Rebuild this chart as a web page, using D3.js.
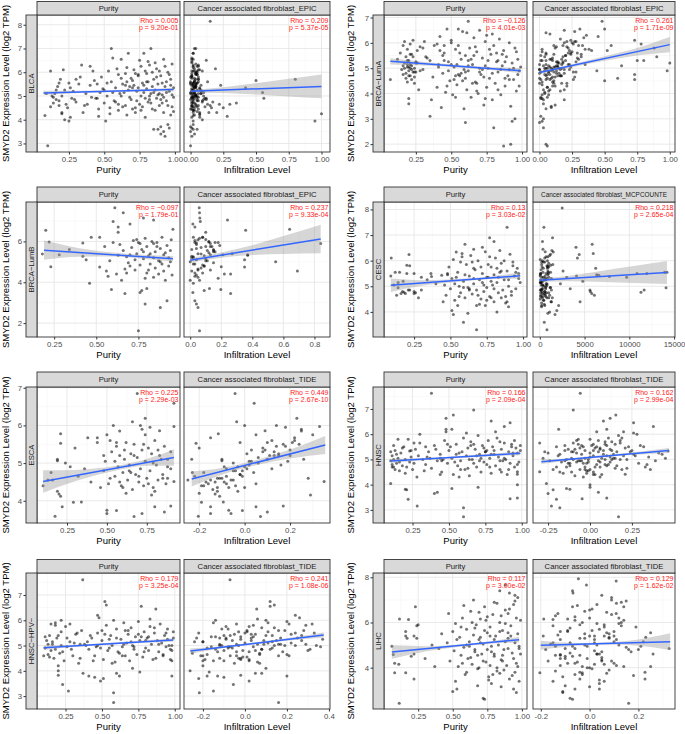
<!DOCTYPE html>
<html><head><meta charset="utf-8">
<script src="https://cdn.jsdelivr.net/npm/d3@7"></script>
<style>body{margin:0;background:#fff}svg text{font-family:"Liberation Sans",Arial,Helvetica,sans-serif}</style>
</head><body><svg id="chart" width="685" height="734"></svg>
<script>
// ---------- DATA (rows: [purity, infiltration, SMYD2 expression]) ----------
const blcaSamples = [
[0.08,0.02,4.18],[0.10,0.00,2.90],[0.12,0.05,6.05],[0.13,0.10,5.00],[0.14,0.03,4.70],[0.15,0.08,5.10],[0.16,0.12,4.85],[0.17,0.04,5.40],[0.18,0.15,4.60],[0.19,0.06,5.70],
[0.20,0.20,4.30],[0.21,0.07,6.10],[0.22,0.02,5.25],[0.22,0.09,4.00],[0.24,0.25,4.50],[0.25,0.05,5.55],[0.27,0.11,4.90],[0.28,0.03,5.20],[0.30,0.17,4.75],[0.32,0.04,5.50],
[0.34,0.06,6.30],[0.35,0.14,4.30],[0.37,0.02,5.10],[0.38,0.22,4.65],[0.40,0.08,5.45],[0.42,0.03,6.05],[0.43,0.50,5.65],[0.44,0.12,4.90],[0.45,0.04,5.50],[0.46,0.28,4.15],
[0.48,0.01,5.80],[0.49,0.07,5.30],[0.50,0.35,4.70],[0.51,0.02,3.95],[0.52,0.05,5.00],[0.53,0.09,6.05],[0.54,0.03,4.50],[0.55,0.13,5.60],[0.56,0.01,6.60],[0.57,0.06,4.80],
[0.58,0.04,5.35],[0.59,0.19,6.15],[0.60,0.02,4.40],[0.61,0.08,5.10],[0.62,0.03,5.75],[0.63,0.05,4.55],[0.64,0.55,5.15],[0.65,0.01,5.95],[0.66,0.07,4.20],[0.67,0.02,6.80],
[0.68,0.04,5.40],[0.69,0.10,4.85],[0.70,0.03,5.65],[0.71,0.06,6.10],[0.72,0.02,4.30],[0.73,0.08,5.20],[0.74,0.01,5.85],[0.75,0.04,4.65],[0.75,0.12,6.50],[0.76,0.03,5.00],
[0.77,0.05,5.55],[0.78,0.02,6.80],[0.79,0.07,4.10],[0.80,0.01,5.30],[0.80,0.04,5.95],[0.81,0.09,4.75],[0.82,0.02,6.30],[0.83,0.03,7.00],[0.83,0.06,5.10],[0.84,0.01,4.45],
[0.85,0.04,5.70],[0.85,0.02,3.60],[0.86,0.08,5.25],[0.87,0.03,6.15],[0.87,0.01,4.90],[0.88,0.05,3.60],[0.88,0.02,5.50],[0.89,0.06,4.60],[0.90,0.01,5.85],[0.90,0.03,3.40],
[0.91,0.04,5.05],[0.92,0.02,6.55],[0.92,0.07,4.30],[0.93,0.01,3.30],[0.93,0.03,5.40],[0.94,0.05,4.80],[0.95,0.02,3.80],[0.95,0.04,6.00],[0.96,0.01,5.20],[0.97,0.03,4.20],
[0.97,0.06,5.70],[0.98,0.02,4.55],[0.98,0.04,6.35],[0.99,0.01,4.95],[0.99,0.03,5.35],[0.70,0.42,5.35],[0.30,0.80,5.70],[0.25,0.95,3.95],[0.20,1.00,4.25],[null,0.15,8.15],
[0.60,0.30,4.65],[0.45,0.56,4.90],[0.65,0.23,5.45],[0.72,0.16,4.50],[0.55,0.04,7.00],[0.62,0.01,6.55],[0.66,0.03,5.60],[0.68,0.02,4.95],[0.71,0.01,5.45],[0.74,0.05,5.90],
[0.76,0.02,4.40],[0.78,0.00,5.15],[0.79,0.01,6.05],[0.81,0.03,5.60],[0.82,0.00,4.85],[0.84,0.02,5.40],[0.86,0.01,6.40],[0.89,0.00,5.10],[0.91,0.01,4.70],[0.94,0.00,5.60],
[0.50,0.01,5.25],[0.46,0.00,4.45],[0.40,0.02,6.25],[0.36,0.01,4.60],[0.33,0.00,5.80],[0.26,0.01,4.10],[0.18,0.00,5.55],[0.90,0.00,3.70],[0.92,0.00,3.50],[0.96,0.01,3.65],
[0.56,0.03,5.15],[0.58,0.01,4.75],[0.60,0.05,5.90],[0.62,0.02,5.00],[0.63,0.00,5.50],[0.65,0.04,4.60],[0.66,0.02,6.20],[0.67,0.05,5.25],[0.69,0.01,5.75],[0.70,0.06,4.45],
[0.72,0.04,5.95],[0.73,0.02,4.80],[0.74,0.03,5.35],[0.76,0.06,6.25],[0.77,0.01,4.55],[0.78,0.04,5.45],[0.79,0.03,4.90],[0.80,0.06,5.60],[0.81,0.01,6.45],[0.82,0.04,5.00],
[0.83,0.02,4.70],[0.84,0.05,6.00],[0.85,0.01,5.15],[0.86,0.03,4.40],[0.87,0.06,5.80],[0.88,0.04,5.05],[0.89,0.02,6.05],[0.90,0.05,4.85],[0.91,0.02,5.55],[0.92,0.01,4.95],
[0.93,0.05,6.25],[0.94,0.03,5.15],[0.95,0.01,4.60],[0.96,0.04,5.90],[0.97,0.02,5.45],[0.98,0.01,5.05],[0.99,0.05,4.35],[0.14,0.06,4.95],[0.16,0.02,5.25],[0.18,0.09,4.80],
[0.20,0.04,5.00],[0.23,0.13,4.65],[0.26,0.07,5.35],[0.29,0.02,4.85],[0.12,0.11,4.55],[0.41,0.05,4.95],[0.47,0.10,5.15],[0.52,0.02,5.55],[0.54,0.07,4.25],[0.09,0.03,5.10]
];
const lumaSamples = [
[0.07,0.05,4.55],[0.12,0.08,5.35],[0.14,0.22,5.60],[0.15,0.10,4.95],[0.16,0.30,5.90],[0.16,0.04,4.75],[0.17,0.15,5.20],[0.17,0.28,6.05],[0.18,0.06,4.60],[0.18,0.18,5.45],
[0.19,0.12,5.05],[0.19,0.35,5.75],[0.20,0.02,3.80],[0.20,0.03,3.60],[0.20,0.09,4.90],[0.20,0.20,5.30],[0.21,0.14,4.70],[0.21,0.26,5.95],[0.22,0.07,5.10],[0.22,0.32,5.55],
[0.23,0.11,4.85],[0.23,0.24,6.10],[0.24,0.05,5.00],[0.24,0.17,4.40],[0.25,0.13,5.25],[0.26,0.40,5.70],[0.27,0.08,4.15],[0.28,0.21,5.85],[0.30,0.16,4.95],[0.31,0.27,6.05],
[0.33,0.10,5.40],[0.35,0.01,3.10],[0.36,0.19,3.75],[0.37,0.12,4.65],[0.38,0.33,5.90],[0.40,0.06,4.25],[0.41,0.23,5.15],[0.42,0.45,6.25],[0.43,0.09,3.45],[0.44,0.15,4.80],
[0.45,0.29,5.60],[0.46,0.04,4.05],[0.47,0.50,6.55],[0.48,0.18,5.25],[0.49,0.11,4.50],[0.50,0.25,6.00],[0.51,0.07,3.95],[0.52,0.14,5.05],[0.53,0.38,5.75],[0.54,0.02,4.35],
[0.55,0.31,6.55],[0.56,0.16,4.70],[0.57,0.09,5.35],[0.58,0.27,6.45],[0.59,0.05,3.40],[0.60,0.00,2.85],[0.60,0.20,5.50],[0.61,0.03,4.15],[0.62,0.48,6.85],[0.62,0.13,4.90],
[0.63,0.22,5.80],[0.64,0.06,3.85],[0.65,0.17,5.15],[0.66,0.34,6.20],[0.67,0.10,4.45],[0.68,0.25,5.65],[0.69,0.04,4.00],[0.70,0.19,6.50],[0.71,0.08,4.75],[0.72,0.29,5.40],
[0.73,0.12,3.55],[0.74,0.21,6.05],[0.75,0.06,4.25],[0.75,0.36,6.30],[0.76,0.15,5.00],[0.77,0.09,4.60],[0.78,0.24,5.55],[0.79,0.03,3.75],[0.80,0.03,2.65],[0.80,0.18,5.90],
[0.81,0.11,4.40],[0.82,0.28,5.25],[0.83,0.07,4.85],[0.84,0.16,6.15],[0.85,0.02,3.95],[0.86,0.13,5.10],[0.87,0.06,1.93],[0.87,0.23,5.70],[0.88,0.10,4.30],[0.89,0.32,5.45],
[0.90,0.05,4.70],[0.91,0.19,6.00],[0.92,0.05,2.00],[0.92,0.09,3.50],[0.93,0.02,2.90],[0.93,0.14,5.20],[0.94,0.26,4.55],[0.95,0.03,3.00],[0.95,0.12,5.80],[0.96,0.07,4.10],
[0.97,0.17,5.35],[0.98,0.04,4.90],[0.98,0.21,4.30],[0.99,0.11,5.05],[0.50,0.73,6.10],[0.45,0.75,5.30],[0.40,0.78,5.95],[0.35,0.80,5.30],[0.30,0.88,5.80],[0.32,0.90,5.45],
[0.28,0.98,4.90],[0.25,1.00,5.20],[0.55,0.73,4.75],[0.52,0.73,4.55],[0.60,0.60,4.60],[0.58,0.50,4.50],[0.62,0.63,5.10],[0.45,0.55,5.90],[0.42,0.52,5.70],[0.48,0.44,4.90],
[0.24,0.01,4.85],[0.21,0.00,5.15],[0.19,0.02,4.45],[0.66,0.01,5.50],[0.72,0.00,4.95],[0.83,0.01,5.30],[0.57,0.00,4.80],[0.77,0.02,5.75],[0.88,0.00,4.60],[0.64,0.30,5.35],
[0.70,0.26,4.85],[0.54,0.35,5.15],[0.79,0.08,6.35],[0.86,0.05,5.55],[0.53,0.01,3.85],[0.68,0.00,4.40],[0.74,0.01,3.80],[0.91,0.00,4.95],[0.96,0.02,5.65],[0.61,0.05,6.40],
[0.17,0.09,5.00],[0.18,0.13,4.80],[0.19,0.05,5.30],[0.20,0.16,4.70],[0.21,0.06,5.00],[0.22,0.19,4.95],[0.23,0.04,5.45],[0.24,0.10,4.65],[0.19,0.22,5.15],[0.21,0.11,5.55],
[0.16,0.14,5.10],[0.25,0.07,4.85],[0.26,0.18,5.20],[0.22,0.01,4.55],[0.20,0.24,5.05],
[0.41,0.08,5.05],[0.44,0.20,5.50],[0.47,0.12,4.30],[0.50,0.05,5.15],[0.53,0.17,4.70],[0.56,0.24,5.60],[0.59,0.10,4.95],[0.62,0.02,5.30],[0.65,0.21,4.40],[0.67,0.13,5.85],
[0.70,0.04,5.00],[0.73,0.27,4.65],[0.76,0.10,5.30],[0.79,0.19,4.80],[0.82,0.05,5.60],[0.85,0.23,4.95],[0.88,0.14,5.25],[0.91,0.08,4.55],[0.94,0.17,5.00],[0.97,0.06,4.75],
[0.55,0.11,5.90],[0.68,0.16,4.10],[0.74,0.03,5.10],[0.83,0.19,4.15],[0.60,0.28,4.85]
];
const lumbSamples = [
[0.61,0.058,7.65],[0.66,0.06,7.40],[0.78,0.062,7.15],[0.84,0.24,7.05],[0.70,0.017,6.85],[0.60,0.065,6.97],
[0.955,0.64,6.60],[0.20,0.357,6.55],[0.63,0.03,6.70],[0.63,0.10,6.45],[0.47,0.02,6.20],[0.52,0.08,6.20],[0.945,0.05,6.08],[0.22,0.12,5.97],[0.42,0.04,5.92],
[0.84,0.84,5.90],[0.34,0.15,5.60],[0.18,0.07,5.39],[0.28,0.37,5.35],[0.63,0.37,5.32],[0.42,0.01,5.27],[0.44,0.35,5.10],[0.94,0.55,5.00],[0.23,0.20,4.76],[0.52,0.35,4.75],
[0.56,0.69,4.55],[0.62,0.26,4.40],[0.59,0.197,3.65],[0.67,0.26,3.45],[0.80,0.124,3.70],[0.77,0.09,3.60],[0.76,0.017,3.50],[0.92,0.03,3.09],[0.79,0.04,2.93],[0.88,0.05,2.77],
[0.75,0.06,1.63],[0.46,0.02,3.95],
[0.64,0.04,5.85],[0.66,0.11,5.55],[0.68,0.02,5.25],[0.69,0.15,4.95],[0.71,0.07,5.70],[0.72,0.03,6.05],[0.73,0.13,4.60],[0.74,0.05,5.40],[0.75,0.18,5.95],[0.76,0.08,4.85],
[0.77,0.01,5.60],[0.78,0.10,5.15],[0.79,0.06,6.15],[0.80,0.03,4.45],[0.80,0.14,5.75],[0.81,0.09,5.30],[0.82,0.02,4.90],[0.83,0.12,6.00],[0.84,0.05,4.25],[0.85,0.16,5.50],
[0.85,0.07,4.70],[0.86,0.03,5.95],[0.87,0.11,5.05],[0.87,0.22,4.40],[0.88,0.04,5.65],[0.89,0.08,6.20],[0.90,0.01,4.55],[0.90,0.13,5.35],[0.91,0.06,4.10],[0.92,0.19,5.80],
[0.93,0.02,5.20],[0.93,0.09,4.80],[0.94,0.15,5.55],[0.95,0.04,4.35],[0.58,0.10,5.05],[0.57,0.03,4.30],[0.55,0.13,5.75],[0.65,0.00,4.10],[0.70,0.21,5.35],[0.82,0.27,5.40],
[0.74,0.10,6.10],[0.67,0.05,4.65],[0.60,0.16,5.95],[0.88,0.00,5.00],[0.79,0.18,4.20],
[0.70,0.09,4.80],[0.73,0.04,5.10],[0.78,0.15,5.50],[0.81,0.05,4.60],[0.86,0.10,5.75],[0.89,0.03,4.90],[0.91,0.12,5.45],[0.76,0.13,5.90],[0.68,0.08,4.45],[0.84,0.01,5.20]
];
const cescSamples = [
[null,2500,8.06],[0.89,460,7.30],[0.77,1420,6.89],[0.80,300,6.75],[0.72,4040,6.52],[0.60,5850,6.64],[0.58,5970,6.28],[0.66,6240,5.70],[0.44,6600,5.43],[0.48,6350,5.45],
[0.37,7770,5.38],[0.30,9700,5.35],[0.20,10860,5.50],[0.25,11950,5.50],[0.15,13940,5.55],[0.12,14200,5.55],[0.14,14100,4.94],[0.18,11300,4.77],[0.21,11650,4.85],[0.22,5600,4.85],
[0.25,5650,4.80],[0.16,5800,4.72],[0.13,6100,4.65],[0.45,4500,4.40],[0.51,1900,4.05],[0.55,2100,4.25],[0.59,500,3.60],[0.68,800,3.30],[0.09,4100,5.40],[0.093,4200,6.10],
[0.215,4400,6.24],[0.175,4800,5.20],[0.20,1200,5.82],[0.22,900,5.80],[0.19,600,4.72],[0.25,300,4.72],[0.26,1000,4.75],[0.366,700,5.50],[0.54,1500,6.34],[0.82,1100,4.00],
[0.90,200,4.20],[0.93,800,5.80],[0.93,400,5.95],[0.97,1300,5.30],[0.97,100,5.50],[0.52,1700,3.90],[0.75,3000,5.35],[0.63,3400,4.90],[0.85,2600,5.60],[0.40,2300,5.10],
[0.46,150,5.05],[0.47,600,4.65],[0.49,1000,5.75],[0.50,250,4.90],[0.51,800,5.30],[0.52,50,6.05],[0.53,400,4.45],[0.55,1200,5.55],[0.56,700,5.00],[0.57,100,4.75],
[0.58,900,6.15],[0.59,350,5.20],[0.60,1400,4.55],[0.61,200,5.85],[0.62,650,4.95],[0.63,50,5.40],[0.64,1100,6.20],[0.65,450,4.70],[0.66,800,5.10],[0.67,150,5.65],
[0.68,1300,4.85],[0.69,300,6.00],[0.70,700,5.25],[0.71,50,4.50],[0.72,950,5.50],[0.73,250,4.80],[0.74,600,6.35],[0.75,1150,4.95],[0.76,400,5.35],[0.77,100,4.60],
[0.78,850,5.75],[0.79,300,5.05],[0.80,1250,4.40],[0.81,550,6.10],[0.82,150,5.15],[0.83,750,4.75],[0.84,350,5.55],[0.85,1000,5.90],[0.86,50,4.85],[0.87,650,5.25],
[0.88,200,4.35],[0.89,900,5.60],[0.90,450,5.00],[0.91,1200,6.25],[0.92,100,4.65],[0.94,600,5.40],[0.95,300,4.90],[0.96,850,5.70],[0.98,150,5.15],[0.70,500,4.30],
[0.74,200,4.25],[0.78,1000,4.55],[0.66,350,6.45],[0.84,1350,6.40],[0.62,900,3.95],[0.57,550,5.95],[0.76,1450,5.85],[0.88,650,4.60],[0.54,250,5.35],[0.80,50,5.45],
[0.30,150,4.85],[0.34,450,5.25],[0.28,800,4.55],[0.14,100,5.15],[0.11,350,5.05],[0.17,550,4.80],
[0.48,100,5.50],[0.53,700,5.10],[0.56,300,4.60],[0.60,900,5.45],[0.63,150,4.85],[0.66,600,5.30],[0.69,1100,4.65],[0.71,250,5.75],[0.73,800,5.05],[0.75,450,4.45],
[0.78,150,5.20],[0.80,650,4.90],[0.83,1000,5.35],[0.85,300,4.55],[0.87,850,6.00],[0.90,100,5.25],[0.92,550,4.80],[0.95,950,5.55],[0.65,200,5.95],[0.77,700,6.15],
[0.59,1200,4.95],[0.72,50,5.15],[0.82,400,5.70],[0.89,1300,4.40],[0.68,550,4.25]
];
const escaSamples = [
[0.69,-0.042,6.85],[0.92,0.042,6.59],[0.74,0.23,6.19],[0.66,-0.035,6.10],[0.54,0.00,6.00],[0.71,0.14,6.00],[0.77,0.18,5.95],[0.83,0.09,5.86],[0.92,0.33,5.97],
[0.21,-0.116,5.78],[0.21,-0.214,5.53],[0.30,-0.20,5.40],[0.38,-0.15,5.67],[0.44,0.22,5.67],[0.44,-0.02,5.55],[0.50,0.05,5.75],[0.52,0.12,5.60],[0.19,-0.233,5.10],[0.19,-0.10,5.06],[0.24,-0.05,5.00],
[0.10,-0.19,4.40],[0.13,-0.15,4.55],[0.15,-0.23,4.75],[0.19,-0.12,4.25],[0.20,-0.13,4.18],[0.21,-0.11,4.12],[0.29,-0.19,3.96],[0.175,-0.204,3.59],[0.22,-0.15,3.84],[0.34,-0.094,3.97],
[0.50,-0.07,3.75],[0.50,-0.06,3.66],[0.56,-0.01,3.74],[0.67,0.07,3.58],[0.72,-0.15,3.66],[0.80,0.05,3.84],[0.90,0.17,3.86],[0.86,0.10,3.70],[0.92,0.35,4.51],[0.88,0.28,4.60],[0.78,0.29,4.15],
[0.46,-0.12,4.35],[0.48,-0.05,4.80],[0.49,0.02,5.05],[0.51,-0.16,4.45],[0.53,0.08,5.30],[0.55,-0.08,4.65],[0.56,0.14,5.45],[0.57,-0.03,4.90],[0.58,0.20,5.20],[0.59,-0.18,4.40],
[0.60,0.04,4.75],[0.61,-0.10,5.10],[0.62,0.10,5.55],[0.63,-0.06,4.55],[0.64,0.16,4.95],[0.65,0.01,5.25],[0.66,-0.14,4.30],[0.67,0.24,5.50],[0.68,-0.02,4.70],[0.69,0.06,5.15],
[0.70,-0.09,4.50],[0.71,0.12,4.85],[0.72,0.03,5.35],[0.73,-0.04,4.40],[0.74,0.19,5.05],[0.75,-0.11,4.60],[0.76,0.08,5.40],[0.77,-0.01,4.80],[0.78,0.15,5.25],[0.79,-0.07,4.35],
[0.80,0.22,5.60],[0.81,0.02,4.95],[0.82,-0.05,4.55],[0.83,0.11,5.20],[0.84,0.26,5.10],[0.85,-0.02,4.70],[0.86,0.18,5.45],[0.87,0.05,4.45],[0.88,-0.09,4.90],[0.90,0.13,5.30],
[0.40,-0.17,4.50],[0.36,-0.08,4.85],[0.32,-0.22,4.65],[0.27,0.00,4.90],[0.16,-0.25,4.55],[0.62,-0.20,4.20],[0.74,0.30,5.75],[0.58,0.25,5.85],
[0.52,-0.10,4.60],[0.55,0.03,5.05],[0.58,-0.13,4.50],[0.61,0.09,5.35],[0.64,-0.04,4.80],[0.67,0.13,5.20],[0.70,-0.01,4.65],[0.73,0.17,5.50],[0.76,-0.08,4.45],[0.79,0.06,5.00],
[0.82,0.20,5.35],[0.85,-0.12,4.60],[0.88,0.10,5.10],[0.60,0.00,4.35],[0.72,0.25,5.90],[0.48,0.15,5.20],[0.65,-0.18,4.75],[0.80,-0.03,4.25],[0.56,0.21,5.55],[0.90,0.01,4.85]
];
const hnscSamples = [
[0.38,-0.058,7.62],[0.53,0.154,6.76],[0.48,0.12,6.63],[0.67,-0.10,6.96],[0.79,0.08,6.52],[0.92,0.26,6.45],[0.88,0.378,6.30],[0.48,-0.187,6.20],[0.48,0.20,6.10],[0.26,-0.30,5.65],
[0.23,0.466,5.33],[0.12,-0.15,5.55],[0.11,0.33,4.70],[0.11,0.34,4.80],[0.10,-0.26,4.05],[0.21,-0.22,3.80],[0.22,-0.20,3.42],[0.282,-0.23,3.15],[0.60,-0.18,3.08],[0.60,0.17,2.73],
[0.92,-0.047,3.44],[0.97,0.10,3.47],[0.97,0.21,4.41],[0.97,-0.30,4.51],[0.97,0.00,4.00],[0.20,-0.12,3.82],[0.40,-0.25,3.65],[0.42,0.05,3.70],[0.52,-0.14,3.85],[0.70,0.00,3.90],
[0.10,-0.05,4.95],[0.11,0.02,5.15],[0.12,-0.20,4.70],[0.13,0.08,5.35],[0.14,-0.12,4.85],[0.15,0.15,5.05],[0.16,-0.02,4.55],[0.17,-0.25,5.25],[0.18,0.10,4.75],[0.19,0.04,5.50],
[0.20,-0.16,4.45],[0.22,0.00,5.80],[0.23,-0.08,4.90],[0.24,0.12,5.10],[0.25,-0.22,4.60],[0.27,0.06,5.40],[0.28,-0.04,4.30],[0.30,0.18,5.65],[0.32,-0.14,5.00],[0.34,0.09,4.80],
[0.36,-0.10,5.30],[0.38,0.22,4.65],[0.40,0.01,5.55],[0.42,-0.06,4.95],[0.44,0.14,5.20],[0.45,-0.18,4.50],[0.47,0.05,5.75],[0.49,-0.02,4.85],[0.50,0.25,5.35],[0.52,-0.11,5.05],
[0.53,0.07,4.40],[0.55,-0.07,5.60],[0.56,0.16,4.75],[0.57,0.00,5.25],[0.58,-0.15,4.95],[0.60,0.11,5.85],[0.61,-0.03,4.60],[0.62,0.20,5.15],[0.63,0.03,5.45],[0.64,-0.09,4.35],
[0.65,0.13,5.70],[0.66,-0.01,5.00],[0.67,0.29,4.85],[0.68,-0.13,5.40],[0.69,0.06,4.70],[0.70,0.17,5.95],[0.71,-0.05,5.20],[0.72,0.02,4.50],[0.73,0.10,5.55],[0.74,-0.17,4.90],
[0.75,0.24,5.30],[0.76,0.04,4.80],[0.77,-0.08,5.75],[0.78,0.14,5.05],[0.79,-0.02,4.45],[0.80,0.32,5.50],[0.81,0.08,5.20],[0.82,-0.12,4.75],[0.83,0.19,5.85],[0.84,0.00,5.10],
[0.85,-0.06,4.60],[0.86,0.12,5.40],[0.87,0.05,4.95],[0.88,-0.10,5.65],[0.89,0.22,5.00],[0.90,0.02,4.40],[0.91,0.16,5.30],[0.92,-0.04,4.85],[0.93,0.09,5.60],[0.94,0.27,5.15],
[0.95,-0.14,4.70],[0.96,0.06,5.45],[0.97,0.41,5.25],[0.98,-0.01,4.90],[0.99,0.13,5.35],[0.35,0.35,5.10],[0.45,0.39,4.95],[0.55,0.43,5.20],[0.65,0.30,5.55],[0.75,-0.27,5.30],
[0.85,-0.24,4.95],[0.30,0.28,6.00],[0.58,0.36,4.60],[0.44,-0.28,5.05],[0.72,0.45,5.05],[0.62,0.26,6.05],[0.52,0.10,6.20],[0.82,0.04,6.10],[0.15,-0.07,5.80],[0.95,0.18,5.75],
[0.10,0.05,5.30],[0.12,-0.10,5.00],[0.13,0.00,4.60],[0.14,-0.18,5.20],[0.16,0.06,4.90],[0.18,-0.06,5.45],[0.20,0.13,5.00],[0.21,-0.03,4.70],[0.24,0.02,5.35],[0.26,-0.13,4.85],
[0.29,0.10,5.15],[0.33,-0.01,4.55],[0.37,0.07,5.05],[0.41,-0.09,5.40],[0.46,0.18,5.00],[0.51,-0.04,5.50],[0.54,0.12,4.90],[0.59,-0.11,5.30],[0.63,0.15,4.65],[0.67,0.02,5.60],
[0.71,-0.07,4.95],[0.74,0.21,5.45],[0.78,0.03,4.70],[0.81,-0.15,5.35],[0.85,0.09,5.70],[0.88,-0.03,5.05],[0.91,0.19,4.60],[0.94,-0.08,5.25],[0.97,0.11,4.80],[0.99,-0.05,5.55],
[0.57,0.06,4.30],[0.69,-0.19,5.15],[0.79,0.26,5.20],[0.44,0.03,4.40],[0.34,-0.20,5.50],[0.64,0.09,5.00],[0.86,-0.11,4.50],[0.49,0.15,5.60],[0.76,-0.03,5.35],[0.93,0.23,5.50]
];
const hpvSamples = [
[0.368,-0.071,7.60],[0.53,0.14,6.60],[0.52,0.12,6.74],[0.47,0.24,6.20],[0.48,0.26,6.10],[0.77,0.12,6.55],[0.87,0.056,6.45],
[0.18,-0.15,5.90],[0.18,0.29,5.80],[0.22,-0.14,6.00],[0.20,-0.20,4.20],[0.20,-0.261,4.00],[0.20,-0.02,3.83],[0.23,-0.055,3.46],[0.27,-0.15,3.20],[0.58,-0.217,3.13],[0.58,0.16,2.75],
[0.10,-0.20,4.60],[0.98,0.34,5.00],[0.98,0.30,4.80],[0.98,0.20,3.80],[0.98,-0.20,4.40],
[0.37,0.05,3.90],[0.41,-0.18,3.80],[0.45,-0.10,3.75],[0.49,0.02,3.60],[0.51,-0.22,3.70],[0.60,0.08,3.90],[0.62,-0.13,3.80],[0.71,0.10,4.10],[0.76,-0.17,3.95],
[0.11,-0.08,4.90],[0.12,0.03,5.20],[0.13,-0.18,4.65],[0.14,0.10,5.40],[0.15,-0.10,4.80],[0.16,0.17,5.05],[0.17,-0.03,4.50],[0.19,-0.23,5.30],[0.21,0.07,4.70],[0.22,0.01,5.55],
[0.24,-0.15,4.40],[0.25,0.02,5.75],[0.26,-0.07,4.95],[0.28,0.13,5.15],[0.30,-0.21,4.60],[0.32,0.05,5.45],[0.34,-0.05,4.30],[0.36,0.19,5.60],[0.39,-0.12,5.00],[0.41,0.08,4.85],
[0.43,-0.09,5.30],[0.45,0.21,4.60],[0.47,0.00,5.50],[0.49,-0.06,4.90],[0.50,0.15,5.20],[0.51,-0.19,4.45],[0.53,0.04,5.80],[0.54,-0.01,4.80],[0.56,0.27,5.40],[0.57,-0.11,5.00],
[0.59,0.06,4.35],[0.60,-0.08,5.65],[0.61,0.18,4.75],[0.63,-0.02,5.25],[0.64,-0.16,4.95],[0.65,0.11,5.90],[0.66,-0.04,4.60],[0.67,0.22,5.10],[0.68,0.03,5.45],[0.69,-0.10,4.40],
[0.70,0.14,5.70],[0.71,-0.03,5.00],[0.72,0.31,4.85],[0.73,-0.14,5.35],[0.74,0.07,4.65],[0.75,0.20,5.95],[0.76,-0.06,5.20],[0.78,0.01,4.55],[0.79,0.11,5.55],[0.80,-0.18,4.90],
[0.81,0.25,5.30],[0.82,0.05,4.80],[0.83,-0.09,5.75],[0.84,0.16,5.05],[0.85,-0.02,4.45],[0.86,0.33,5.50],[0.88,0.09,5.20],[0.89,-0.13,4.75],[0.90,0.21,5.85],[0.91,0.00,5.10],
[0.92,-0.07,4.60],[0.93,0.13,5.40],[0.94,0.04,4.95],[0.95,-0.11,5.65],[0.96,0.24,5.00],[0.97,0.02,4.45],[0.99,0.17,5.30],[0.35,0.29,5.05],[0.46,0.36,4.95],[0.55,0.37,5.25],
[0.66,0.28,5.60],[0.40,-0.24,5.15],[0.62,-0.25,4.70],[0.28,0.32,5.85],[0.58,0.10,6.00],[0.83,0.06,6.05],[0.15,-0.04,5.85],
[0.11,0.04,5.35],[0.13,-0.12,5.05],[0.14,-0.01,4.55],[0.16,-0.20,5.15],[0.18,0.08,4.85],[0.20,-0.07,5.40],[0.22,0.14,5.00],[0.23,-0.04,4.75],[0.26,0.03,5.30],[0.29,-0.14,4.85],
[0.31,0.11,5.10],[0.35,-0.02,4.50],[0.38,0.06,5.05],[0.42,-0.10,5.40],[0.47,0.19,5.00],[0.52,-0.05,5.45],[0.55,0.13,4.90],[0.60,-0.12,5.30],[0.64,0.16,4.60],[0.68,0.01,5.60],
[0.72,-0.08,4.95],[0.75,0.22,5.45],[0.79,0.02,4.75],[0.82,-0.16,5.35],[0.86,0.08,5.70],[0.89,-0.04,5.05],[0.92,0.20,4.65],[0.95,-0.09,5.25],[0.97,0.12,4.85],[0.99,-0.03,5.55],
[0.57,0.07,4.30],[0.70,-0.20,5.15],[0.80,0.27,5.20],[0.44,0.02,4.40],[0.33,-0.22,5.50],[0.65,0.09,5.05],[0.87,-0.12,4.50],[0.50,0.16,5.60],[0.77,-0.02,5.35],[0.94,0.24,5.50]
];
const lihcSamples = [
[0.113,0.16,2.43],[0.08,-0.204,3.78],[0.06,-0.14,4.95],[0.07,-0.12,4.58],[0.08,-0.06,4.20],[0.11,0.02,4.15],[0.115,-0.188,6.15],[0.18,-0.15,6.13],[0.16,-0.09,5.60],[0.16,0.00,5.40],
[0.17,-0.04,5.30],[0.23,-0.07,6.70],[0.24,-0.15,5.85],[0.25,0.06,5.90],[0.22,0.10,5.40],[0.24,-0.02,5.30],[0.22,0.03,4.60],[0.20,-0.10,4.50],[0.22,0.227,3.50],[0.16,-0.03,3.78],
[0.50,-0.11,2.95],[0.53,0.04,3.05],[0.72,-0.08,2.65],[0.73,-0.07,2.60],[0.47,0.109,6.40],
[null,-0.046,7.93],[null,0.109,7.84],[0.88,-0.013,7.66],[0.84,-0.07,7.40],[0.91,-0.068,7.30],[0.95,0.05,7.20],[0.97,0.09,7.10],[0.80,0.13,6.90],
[0.97,0.25,4.05],[0.98,0.326,4.85],[0.90,0.25,5.55],[0.96,-0.11,2.90],[0.94,-0.06,3.05],[0.85,0.00,3.15],[0.78,0.04,3.30],[0.68,-0.10,3.20],[0.60,0.227,3.80],[0.75,0.20,4.80],
[0.46,-0.08,5.10],[0.48,0.05,4.30],[0.50,-0.12,5.60],[0.51,0.02,4.75],[0.52,0.12,5.95],[0.54,-0.03,4.05],[0.55,0.08,5.35],[0.56,-0.14,4.55],[0.57,0.00,6.20],[0.58,0.15,4.90],
[0.59,-0.06,3.70],[0.60,0.04,5.70],[0.61,-0.10,4.40],[0.62,0.10,5.15],[0.63,-0.02,6.50],[0.64,0.06,4.15],[0.65,-0.13,5.45],[0.66,0.17,4.70],[0.67,-0.04,5.90],[0.68,0.01,3.95],
[0.69,0.11,5.25],[0.70,-0.09,6.15],[0.71,0.03,4.60],[0.72,-0.16,5.05],[0.73,0.14,6.70],[0.74,-0.05,4.25],[0.75,0.07,5.55],[0.76,-0.11,3.60],[0.77,0.19,5.80],[0.78,-0.01,4.95],
[0.79,0.09,6.35],[0.80,-0.07,4.50],[0.81,0.02,5.40],[0.82,-0.14,3.85],[0.83,0.12,5.00],[0.84,-0.03,6.00],[0.85,0.05,4.35],[0.86,-0.09,5.65],[0.87,0.16,4.80],[0.88,0.00,6.55],
[0.89,-0.12,4.10],[0.90,0.08,5.30],[0.91,-0.04,3.50],[0.92,0.13,5.85],[0.93,-0.08,4.65],[0.94,0.03,6.80],[0.95,-0.15,5.10],[0.96,0.10,4.20],[0.97,-0.02,5.50],[0.98,0.06,3.40],
[0.99,-0.06,6.10],[0.62,0.21,4.95],[0.70,0.23,5.35],[0.80,0.26,4.60],[0.88,0.22,5.15],[0.66,-0.18,4.80],[0.77,-0.19,5.40],[0.86,-0.17,4.30],[0.93,0.18,3.65],[0.58,-0.05,6.75],
[0.52,-0.15,3.40],[0.65,0.09,7.00],[0.74,0.14,6.10],[0.82,0.11,6.85],[0.90,-0.13,6.40],[0.95,0.15,6.95],[0.56,0.06,5.80],[0.69,-0.01,4.00],[0.76,0.04,3.45],[0.84,0.07,3.75],
[0.30,-0.12,4.40],[0.35,0.03,5.00],[0.40,-0.06,4.85],[0.42,0.08,5.50],[0.37,0.14,4.05],
[0.60,-0.02,5.00],[0.63,0.05,4.45],[0.66,-0.08,5.75],[0.70,0.02,5.10],[0.72,0.09,4.30],[0.75,-0.06,6.25],[0.78,0.05,4.70],[0.80,-0.12,5.25],[0.82,0.00,4.00],[0.84,0.10,5.60],
[0.86,-0.04,4.55],[0.88,0.03,5.95],[0.90,-0.10,4.85],[0.92,0.06,5.40],[0.94,-0.01,4.40],[0.96,0.12,6.20],[0.98,-0.07,4.95],[0.87,0.08,3.90],[0.79,-0.03,3.70],[0.73,0.01,5.65],
[0.68,-0.12,4.55],[0.64,0.13,6.00],[0.57,-0.09,4.20],[0.53,0.02,5.25],[0.91,0.01,6.60],[0.85,-0.14,6.30],[0.77,0.11,4.10],[0.69,0.07,6.45],[0.95,-0.04,3.80],[0.99,0.04,4.60]
];

// fitted lines with confidence band: [x, lower, fit, upper]
const blcaPurFit = [[0.07,5.04,5.13,5.22],[0.30,5.11,5.165,5.22],[0.60,5.17,5.21,5.25],[0.80,5.19,5.24,5.29],[0.99,5.19,5.27,5.35]];
const blcaInfFit = [[0.0,5.15,5.20,5.25],[0.25,5.13,5.25,5.37],[0.5,5.06,5.30,5.54],[0.75,4.98,5.35,5.72],[1.0,4.90,5.40,5.90]];
const lumaPurFit = [[0.07,5.15,5.27,5.39],[0.3,5.11,5.18,5.25],[0.6,5.01,5.06,5.11],[0.8,4.92,4.98,5.04],[0.99,4.80,4.90,5.00]];
const lumaInfFit = [[0.0,4.76,4.83,4.90],[0.25,5.04,5.10,5.16],[0.5,5.29,5.38,5.47],[0.75,5.50,5.65,5.80],[1.0,5.63,5.93,6.23]];
const lumbPurFit = [[0.19,5.10,5.57,6.04],[0.4,5.25,5.46,5.67],[0.6,5.26,5.36,5.46],[0.8,5.13,5.23,5.33],[0.955,5.02,5.15,5.28]];
const lumbInfFit = [[0.0,4.97,5.08,5.19],[0.2,5.20,5.33,5.46],[0.4,5.33,5.57,5.81],[0.6,5.38,5.82,6.26],[0.84,5.42,6.12,6.82]];
const cescPurFit = [[0.09,4.78,5.04,5.30],[0.3,5.02,5.13,5.24],[0.6,5.20,5.25,5.30],[0.8,5.28,5.34,5.40],[0.98,5.29,5.41,5.53]];
const cescInfFit = [[0,5.18,5.24,5.30],[3500,5.20,5.31,5.42],[7000,5.17,5.39,5.61],[10500,5.13,5.46,5.79],[14200,5.09,5.54,5.99]];
const escaPurFit = [[0.10,4.21,4.51,4.81],[0.3,4.52,4.67,4.82],[0.55,4.80,4.86,4.92],[0.75,4.93,5.02,5.11],[0.92,4.93,5.15,5.37]];
const escaInfFit = [[-0.233,4.38,4.58,4.78],[-0.1,4.69,4.78,4.87],[0.05,4.94,5.01,5.08],[0.2,5.12,5.24,5.36],[0.355,5.24,5.48,5.72]];
const hnscPurFit = [[0.1,4.86,4.94,5.02],[0.35,4.98,5.02,5.06],[0.6,5.07,5.11,5.15],[0.8,5.13,5.18,5.23],[0.99,5.17,5.24,5.31]];
const hnscInfFit = [[-0.29,4.82,4.91,5.00],[-0.1,4.98,5.02,5.06],[0.1,5.10,5.14,5.18],[0.3,5.19,5.25,5.31],[0.47,5.25,5.35,5.45]];
const hpvPurFit = [[0.1,4.83,4.91,4.99],[0.35,4.96,5.00,5.04],[0.6,5.05,5.09,5.13],[0.8,5.11,5.16,5.21],[0.99,5.15,5.22,5.29]];
const hpvInfFit = [[-0.26,4.68,4.78,4.88],[-0.1,4.90,4.94,4.98],[0.05,5.05,5.09,5.13],[0.2,5.19,5.24,5.29],[0.375,5.32,5.42,5.52]];
const lihcPurFit = [[0.06,4.39,4.69,4.99],[0.3,4.71,4.83,4.95],[0.55,4.93,4.98,5.03],[0.8,5.07,5.13,5.19],[0.98,5.11,5.24,5.37]];
const lihcInfFit = [[-0.2,4.79,4.99,5.19],[-0.05,4.97,5.03,5.09],[0.1,5.02,5.08,5.14],[0.2,4.97,5.11,5.25],[0.33,4.78,5.15,5.52]];

// stats labels: [purity Rho, purity p, infiltration Rho, infiltration p]
const blcaStats = ["0.005","9.20e-01","0.209","5.37e-05"];
const lumaStats = ["\u22120.126","4.01e-03","0.261","1.71e-09"];
const lumbStats = ["\u22120.097","1.79e-01","0.237","9.33e-04"];
const cescStats = ["0.13","3.03e-02","0.218","2.65e-04"];
const escaStats = ["0.225","2.29e-03","0.449","2.67e-10"];
const hnscStats = ["0.166","2.09e-04","0.162","2.99e-04"];
const hpvStats  = ["0.179","3.25e-04","0.241","1.08e-06"];
const lihcStats = ["0.117","3.00e-02","0.129","1.62e-02"];

// tick values
const purTicks4 = [0.25,0.50,0.75,1.00];
const purTicks3 = [0.25,0.50,0.75];
const epicTicks = [0,0.25,0.50,0.75,1.00];
const lumbInfTicks = [0,0.2,0.4,0.6,0.8];
const mcpTicks = [0,5000,10000,15000];
const tideTicks2 = [-0.2,0,0.2];
const tideTicks25 = [-0.25,0,0.25];
const tideTicks4 = [-0.2,0,0.2,0.4];

const f2 = v => d3.format(".2f")(v).replace("\u2212","-");
const f1 = v => d3.format(".1f")(v).replace("\u2212","-");
const f0 = v => String(v);

// ---------- PANELS ----------
const panels = [
 {name:"BLCA", col:0,row:0, samples:blcaSamples, stats:blcaStats, purFit:blcaPurFit, infFit:blcaInfFit,
  infHead:"Cancer associated fibroblast_EPIC", yTicks:[3,4,5,6,7,8], yDom:[2.64,8.41],
  purDom:[0.024,1.036], purTicks:purTicks4, purFmt:f2, infDom:[-0.05,1.065], infTicks:epicTicks, infFmt:f2},
 {name:"BRCA\u2212LumA", col:1,row:0, samples:lumaSamples, stats:lumaStats, purFit:lumaPurFit, infFit:lumaInfFit,
  infHead:"Cancer associated fibroblast_EPIC", yTicks:[2,3,4,5,6,7], yDom:[1.69,7.1],
  purDom:[0.025,1.035], purTicks:purTicks4, purFmt:f2, infDom:[-0.05,1.04], infTicks:epicTicks, infFmt:f2},
 {name:"BRCA\u2212LumB", col:0,row:1, samples:lumbSamples, stats:lumbStats, purFit:lumbPurFit, infFit:lumbInfFit,
  infHead:"Cancer associated fibroblast_EPIC", yTicks:[2,4,6], yDom:[1.32,7.93],
  purDom:[0.148,0.997], purTicks:purTicks3, purFmt:f2, infDom:[-0.04,0.9], infTicks:lumbInfTicks, infFmt:f1},
 {name:"CESC", col:1,row:1, samples:cescSamples, stats:cescStats, purFit:cescPurFit, infFit:cescInfFit,
  infHead:"Cancer associated fibroblast_MCPCOUNTE", yTicks:[4,5,6,7,8], yDom:[3.02,8.29],
  purDom:[0.043,1.027], purTicks:purTicks4, purFmt:f2, infDom:[-760,15100], infTicks:mcpTicks, infFmt:f0},
 {name:"ESCA", col:0,row:2, samples:escaSamples, stats:escaStats, purFit:escaPurFit, infFit:escaInfFit,
  infHead:"Cancer associated fibroblast_TIDE", yTicks:[4,5,6,7], yDom:[3.41,7.02],
  purDom:[0.062,0.958], purTicks:purTicks3, purFmt:f2, infDom:[-0.267,0.376], infTicks:tideTicks2, infFmt:f1},
 {name:"HNSC", col:1,row:2, samples:hnscSamples, stats:hnscStats, purFit:hnscPurFit, infFit:hnscInfFit,
  infHead:"Cancer associated fibroblast_TIDE", yTicks:[3,4,5,6,7], yDom:[2.48,7.87],
  purDom:[0.054,1.036], purTicks:purTicks4, purFmt:f2, infDom:[-0.34,0.507], infTicks:tideTicks25, infFmt:f2},
 {name:"HNSC\u2212HPV\u2212", col:0,row:3, samples:hpvSamples, stats:hpvStats, purFit:hpvPurFit, infFit:hpvInfFit,
  infHead:"Cancer associated fibroblast_TIDE", yTicks:[3,4,5,6,7], yDom:[2.49,7.87],
  purDom:[0.054,1.036], purTicks:purTicks4, purFmt:f2, infDom:[-0.29,0.405], infTicks:tideTicks4, infFmt:f1},
 {name:"LIHC", col:1,row:3, samples:lihcSamples, stats:lihcStats, purFit:lihcPurFit, infFit:lihcInfFit,
  infHead:"Cancer associated fibroblast_TIDE", yTicks:[4,6,8], yDom:[2.17,8.19],
  purDom:[0.003,1.037], purTicks:purTicks4, purFmt:f2, infDom:[-0.232,0.35], infTicks:tideTicks2, infFmt:f1}
];

// ---------- LAYOUT ----------
const cols = [
  {title:5.5, strip:26, a:[37,180], b:[184,330]},
  {title:351, strip:373, a:[384,527], b:[533,675]}
];
const rows = [
  {head:1.5, top:15, bottom:152},
  {head:187, top:202, bottom:337},
  {head:372, top:387, bottom:523},
  {head:559.5, top:573, bottom:709}
];

const svg = d3.select("#chart");
svg.append("rect").attr("width",685).attr("height",734).attr("fill","#fff");
const defs = svg.append("defs");

function minorBreaks(ticks, dom){
  const step = ticks[1]-ticks[0], out=[];
  for(let v = ticks[0]-step/2; v <= dom[1]; v += step){ if(v>=dom[0]) out.push(v); }
  return out;
}

panels.forEach((p, pi) => {
  const c = cols[p.col], r = rows[p.row];
  const g = svg.append("g");
  const y = d3.scaleLinear().domain(p.yDom).range([r.bottom, r.top]);
  const subs = [
    {x:d3.scaleLinear().domain(p.purDom).range(c.a), ticks:p.purTicks, fmt:p.purFmt, head:"Purity", fit:p.purFit, rho:p.stats[0], pv:p.stats[1], title:"Purity", idx:0},
    {x:d3.scaleLinear().domain(p.infDom).range(c.b), ticks:p.infTicks, fmt:p.infFmt, head:p.infHead, fit:p.infFit, rho:p.stats[2], pv:p.stats[3], title:"Infiltration Level", idx:1}
  ];
  const yMinor = minorBreaks(p.yTicks, p.yDom);
  subs.forEach((s, j) => {
    const [x0, x1] = s.x.range();
    const w = x1 - x0, h = r.bottom - r.top;
    g.append("rect").attr("x",x0).attr("y",r.top).attr("width",w).attr("height",h).attr("fill","#fff");
    const xMinor = minorBreaks(s.ticks, s.x.domain());
    g.append("g").selectAll("line").data(xMinor).join("line")
      .attr("x1",d=>s.x(d)).attr("x2",d=>s.x(d)).attr("y1",r.top).attr("y2",r.bottom)
      .attr("stroke","#F2F2F2").attr("stroke-width",0.5);
    g.append("g").selectAll("line").data(yMinor).join("line")
      .attr("x1",x0).attr("x2",x1).attr("y1",d=>y(d)).attr("y2",d=>y(d))
      .attr("stroke","#F2F2F2").attr("stroke-width",0.5);
    g.append("g").selectAll("line").data(s.ticks).join("line")
      .attr("x1",d=>s.x(d)).attr("x2",d=>s.x(d)).attr("y1",r.top).attr("y2",r.bottom)
      .attr("stroke","#E6E6E6").attr("stroke-width",0.9);
    g.append("g").selectAll("line").data(p.yTicks).join("line")
      .attr("x1",x0).attr("x2",x1).attr("y1",d=>y(d)).attr("y2",d=>y(d))
      .attr("stroke","#E6E6E6").attr("stroke-width",0.9);
    const cid = `clip-${pi}-${j}`;
    defs.append("clipPath").attr("id",cid).append("rect").attr("x",x0).attr("y",r.top).attr("width",w).attr("height",h);
    const inner = g.append("g").attr("clip-path",`url(#${cid})`);
    const pts = p.samples.filter(d => d[s.idx] !== null);
    inner.append("g").selectAll("circle").data(pts).join("circle")
      .attr("cx",d=>s.x(d[s.idx])).attr("cy",d=>y(d[2])).attr("r",1.5)
      .attr("fill","#000").attr("fill-opacity",0.55);
    const area = d3.area().x(d=>s.x(d[0])).y0(d=>y(d[1])).y1(d=>y(d[3])).curve(d3.curveMonotoneX);
    inner.append("path").attr("d",area(s.fit)).attr("fill","#999999").attr("fill-opacity",0.4);
    const line = d3.line().x(d=>s.x(d[0])).y(d=>y(d[2]));
    inner.append("path").attr("d",line([s.fit[0], s.fit[s.fit.length-1]])).attr("stroke","#3366FF").attr("stroke-width",1.5).attr("fill","none");
    g.append("rect").attr("x",x0).attr("y",r.top).attr("width",w).attr("height",h)
      .attr("fill","none").attr("stroke","#333").attr("stroke-width",0.9);
    g.append("rect").attr("x",x0).attr("y",r.head).attr("width",w).attr("height",r.top-r.head)
      .attr("fill","#D9D9D9").attr("stroke","#333").attr("stroke-width",0.9);
    const ht = g.append("text").attr("x",(x0+x1)/2).attr("y",(r.head+r.top)/2).attr("dy","0.35em")
      .attr("text-anchor","middle").attr("fill","#1A1A1A").style("font-size","7.7px").text(s.head);
    if (ht.node().getComputedTextLength() > w - 10) {
      ht.style("font-size","6.6px").attr("textLength", w - 16).attr("lengthAdjust","spacingAndGlyphs");
    }
    const ax = g.append("g").attr("transform",`translate(0,${r.bottom})`)
      .call(d3.axisBottom(s.x).tickValues(s.ticks).tickFormat(s.fmt).tickSize(2.5).tickPadding(1.5));
    ax.select(".domain").remove();
    ax.selectAll("line").attr("stroke","#333");
    ax.selectAll("text").attr("fill","#4D4D4D").style("font-size","7.8px").style("font-family",null);
    g.append("text").attr("x",x1-1.5).attr("y",r.top+8.3).attr("text-anchor","end")
      .attr("fill","#FF2020").style("font-size","7px").text(`Rho = ${s.rho}`);
    g.append("text").attr("x",x1-1.5).attr("y",r.top+15.3).attr("text-anchor","end")
      .attr("fill","#FF2020").style("font-size","7px").text(`p = ${s.pv}`);
    g.append("text").attr("x",(x0+x1)/2).attr("y",r.bottom+21).attr("text-anchor","middle")
      .attr("fill","#000").style("font-size","9.5px").text(s.title);
  });
  g.append("rect").attr("x",c.strip).attr("y",r.top).attr("width",c.a[0]-c.strip).attr("height",r.bottom-r.top)
    .attr("fill","#D9D9D9").attr("stroke","#333").attr("stroke-width",0.9);
  g.append("text").attr("transform",`translate(${(c.strip+c.a[0])/2},${(r.top+r.bottom)/2}) rotate(-90)`)
    .attr("dy","0.35em").attr("text-anchor","middle").attr("fill","#1A1A1A").style("font-size","7.7px").text(p.name);
  const ay = g.append("g").attr("transform",`translate(${c.strip},0)`)
    .call(d3.axisLeft(y).tickValues(p.yTicks).tickFormat(d3.format("d")).tickSize(2.5).tickPadding(1.5));
  ay.select(".domain").remove();
  ay.selectAll("line").attr("stroke","#333");
  ay.selectAll("text").attr("fill","#4D4D4D").style("font-size","7.8px").style("font-family",null);
  g.append("text").attr("transform",`translate(${c.title},${(r.top+r.bottom)/2}) rotate(-90)`)
    .attr("dy","0.35em").attr("text-anchor","middle").attr("fill","#000").style("font-size","9.5px")
    .text("SMYD2 Expression Level (log2 TPM)");
});
</script>
</body></html>
